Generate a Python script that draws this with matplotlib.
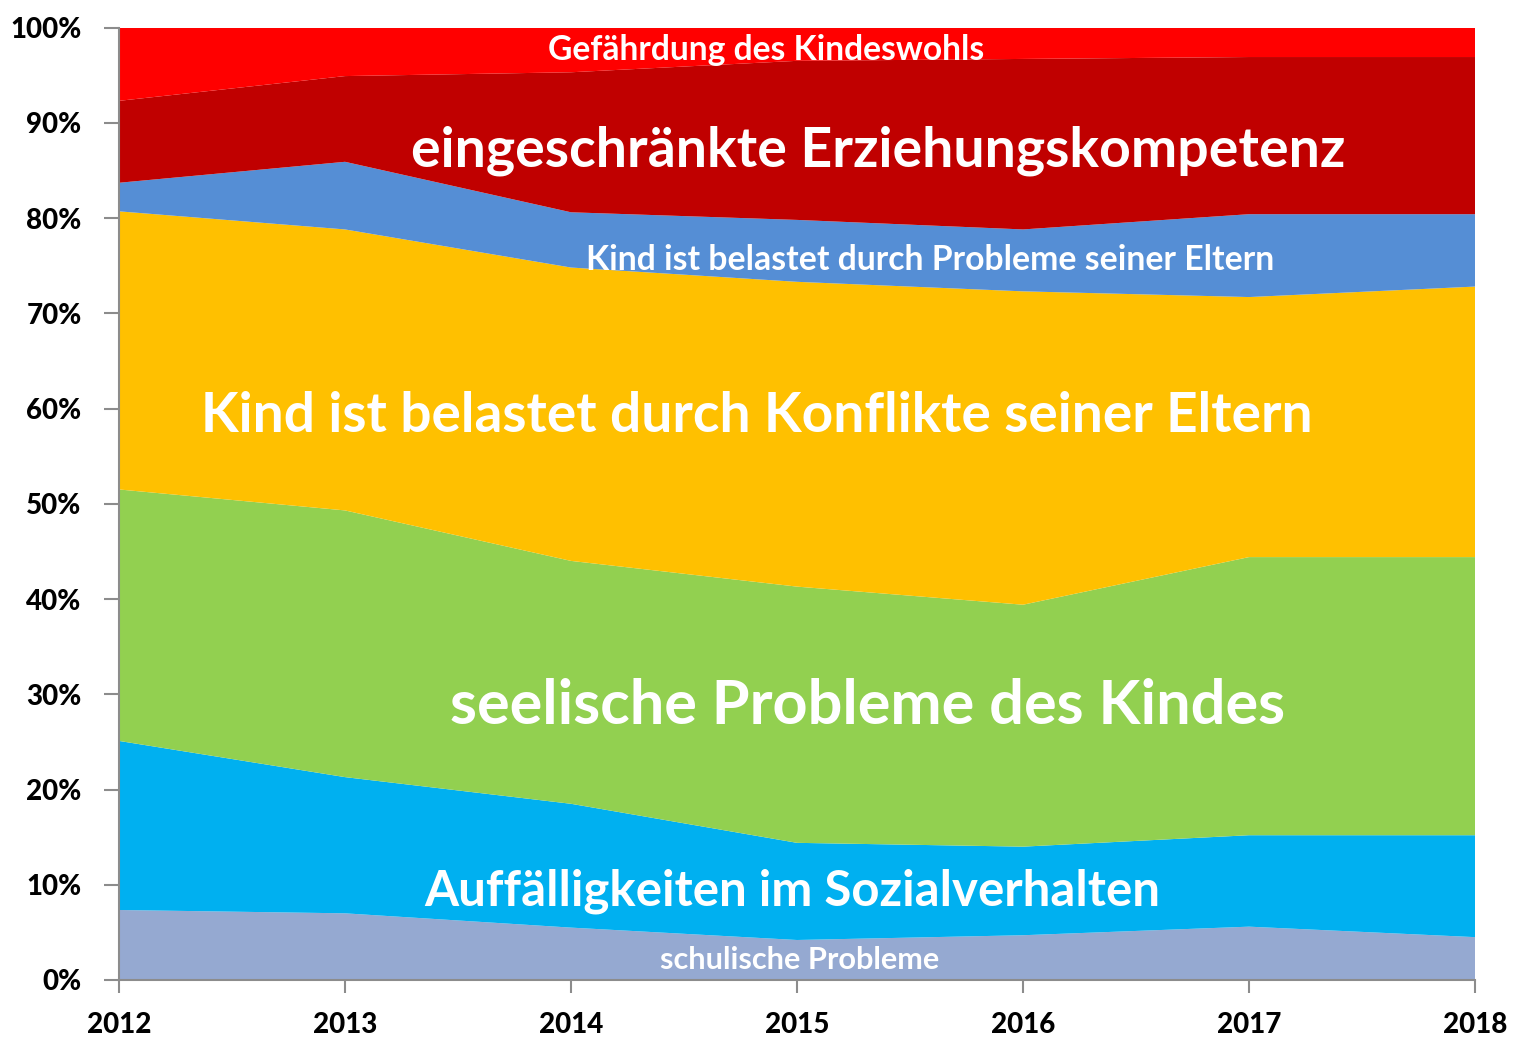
import matplotlib
matplotlib.use("Agg")
import matplotlib.pyplot as plt
import numpy as np

years = [2012, 2013, 2014, 2015, 2016, 2017, 2018]
categories = [
    "schulische Probleme",
    "Auffälligkeiten im Sozialverhalten",
    "seelische Probleme des Kindes",
    "Kind ist belastet durch Konflikte seiner Eltern",
    "Kind ist belastet durch Probleme seiner Eltern",
    "eingeschränkte Erziehungskompetenz",
    "Gefährdung des Kindeswohls",
]
schulisch = [7.35, 7.0, 5.5, 4.2, 4.7, 5.6, 4.5]
sozial = [17.75, 14.3, 13.0, 10.2, 9.3, 9.6, 10.7]
seelisch = [26.4, 28.0, 25.5, 26.9, 25.4, 29.2, 29.2]
konflikte = [29.2, 29.5, 30.8, 32.0, 32.9, 27.3, 28.4]
probleme_eltern = [3.0, 7.1, 5.8, 6.5, 6.5, 8.7, 7.6]
erziehung = [8.6, 9.0, 14.7, 16.7, 17.9, 16.5, 16.5]
gefaehrdung = [7.7, 5.1, 4.7, 3.5, 3.3, 3.1, 3.1]

series = [schulisch, sozial, seelisch, konflikte, probleme_eltern, erziehung, gefaehrdung]
colors = ["#95A9D1", "#00B0F0", "#92D050", "#FFC000", "#558ED5", "#C00000", "#FF0000"]

yticks = [0, 10, 20, 30, 40, 50, 60, 70, 80, 90, 100]
ytick_labels = [f"{v}%" for v in yticks]

plt.rcParams['font.family'] = ['Lato', 'DejaVu Sans']

W, H = 1515, 1038
fig = plt.figure(figsize=(W / 100, H / 100), dpi=100)
ax = fig.add_axes([119 / W, 58 / H, (1475 - 119) / W, (980 - 27.5) / H])

data = np.array(series, dtype=float)
totals = data.sum(axis=0)
data = data / totals * 100.0
ax.stackplot(years, data, colors=colors, linewidth=0)

ax.set_xlim(2012, 2018)
ax.set_ylim(0, 100)
ax.set_yticks(yticks)
ax.set_yticklabels(ytick_labels)
ax.set_xticks(years)
ax.set_xticklabels([str(y) for y in years])
for s in ["top", "right"]:
    ax.spines[s].set_visible(False)
for s in ["left", "bottom"]:
    ax.spines[s].set_color("#8C8C8C")
    ax.spines[s].set_linewidth(1.5)
ax.tick_params(axis="y", length=11, width=1.5, color="#8C8C8C", pad=16,
               labelsize=20)
ax.tick_params(axis="x", length=9, width=1.5, color="#8C8C8C", pad=14,
               labelsize=20)
for lab in ax.get_xticklabels() + ax.get_yticklabels():
    lab.set_fontweight(900)

# labels: (text, center x px, center y px, target width px)
labels = [
    (categories[6], 766, 50, 437),
    (categories[5], 878, 151, 934),
    (categories[4], 930, 260, 690),
    (categories[3], 757, 416, 1114),
    (categories[2], 868, 706, 836),
    (categories[1], 792, 891, 735),
    (categories[0], 800, 960, 280),
]
fig.canvas.draw()
renderer = fig.canvas.get_renderer()
for txt, cx, cy, tw in labels:
    t = fig.text(cx / W, 1 - cy / H, txt, color="white", fontweight="bold",
                 ha="center", va="center", fontsize=20)
    bb = t.get_window_extent(renderer)
    t.set_fontsize(20 * tw / bb.width)

fig.savefig("out.png", dpi=100)
